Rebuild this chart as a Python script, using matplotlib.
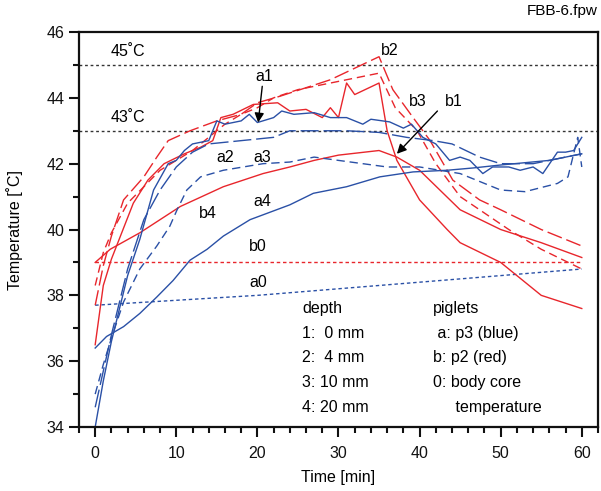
import numpy as np
import matplotlib
matplotlib.use("Agg")
import matplotlib.pyplot as plt
from matplotlib.ticker import MultipleLocator

plt.rcParams['font.family'] = ['Liberation Sans', 'DejaVu Sans']

RED = '#e8262c'
BLUE = '#2a50a6'

# piglet p3 (blue), depths 1..4
a1_t = [0, 1, 2, 4, 5.5, 7.2, 9, 10, 11, 12, 14, 15, 16, 18, 19, 20, 22, 23, 24.5, 27, 29, 31, 33, 34,
        36.3, 38, 39, 40.4, 42, 43.7, 45, 46.2, 47.8, 49, 51, 52.4, 54, 55.2, 57, 58, 59, 60]
a1_T = [34.0, 35.4, 36.6, 38.6, 39.7, 41.2, 42.0, 42.1, 42.4, 42.6, 42.7, 43.3, 43.2, 43.3, 43.5, 43.25,
        43.4, 43.6, 43.5, 43.55, 43.4, 43.4, 43.2, 43.35, 43.27, 43.08, 43.2, 42.8, 42.6, 42.1, 42.2,
        42.1, 41.7, 41.9, 41.9, 41.8, 41.9, 41.7, 42.35, 42.35, 42.4, 42.8]
a2_t = [0, 2, 4, 6, 8, 10, 12, 14, 18, 22, 24, 27, 31, 35, 38.4, 41.7, 44, 47.4, 50, 54, 58, 60]
a2_T = [34.6, 36.8, 38.8, 40.3, 41.2, 41.9, 42.35, 42.6, 42.7, 42.8, 43.0, 43.0, 43.0, 42.95, 42.8,
        42.7, 42.6, 42.2, 42.0, 42.0, 42.2, 42.3]
a3_t = [0, 1, 2, 3.5, 5.5, 7.6, 9.2, 10.1, 11.3, 13, 15.8, 20.7, 24, 27, 30, 36, 40, 45, 50, 53, 57,
        58.3, 59.5, 60]
a3_T = [35.0, 35.9, 36.7, 37.8, 38.8, 39.5, 40.1, 40.6, 41.2, 41.6, 41.8, 42.0, 42.05, 42.2, 42.1,
        41.9, 41.9, 41.7, 41.2, 41.15, 41.4, 41.6, 42.8, 41.9]
a4_t = [0, 1.4, 3.5, 5.5, 7.6, 9.6, 11.7, 13.8, 15.8, 19.1, 24, 26.9, 31, 35.1, 39.2, 43.4, 46.6,
        50, 56, 60]
a4_T = [36.4, 36.75, 37.05, 37.45, 37.95, 38.45, 39.07, 39.4, 39.8, 40.3, 40.75, 41.1, 41.3, 41.6,
        41.75, 41.8, 41.87, 41.96, 42.1, 42.3]
a0_t = [0, 10, 20, 30, 40, 50, 60]
a0_T = [37.7, 37.85, 38.0, 38.2, 38.4, 38.6, 38.8]

# piglet p2 (red), depths 1..4
b1_t = [0, 1, 2, 4.7, 6.5, 8.5, 11, 13, 14.5, 15.5, 17, 19.5, 22.5, 24, 26, 28, 29, 30, 31, 32, 35,
        36, 37.2, 40, 43.4, 45, 50, 55, 60]
b1_T = [36.5, 38.3, 39.1, 40.8, 41.5, 42.0, 42.3, 42.5, 42.7, 43.4, 43.5, 43.8, 43.85, 43.6, 43.65,
        43.4, 43.7, 43.4, 44.45, 44.1, 44.45, 43.0, 42.1, 40.9, 40.0, 39.6, 39.0, 38.0, 37.6]
b2_t = [0, 1, 2, 3.5, 6, 7.6, 9, 11.7, 15, 18, 20, 22.8, 29, 35, 36.7, 39.2, 41.3, 44.1, 47.4, 50,
        55, 60]
b2_T = [37.7, 38.9, 39.8, 40.9, 41.6, 42.2, 42.7, 43.0, 43.3, 43.5, 43.85, 44.05, 44.55, 45.25,
        44.25, 43.4, 42.7, 41.5, 40.9, 40.6, 40.0, 39.5]
b3_t = [0, 1, 2, 4, 6, 8, 10, 12, 14, 16, 18, 20, 22, 25, 30, 35, 37, 39.7, 42, 45, 51, 55, 60]
b3_T = [38.3, 39.3, 39.9, 40.8, 41.3, 41.8, 42.1, 42.4, 42.8, 43.2, 43.5, 43.7, 44.0, 44.25, 44.5,
        44.75, 43.7, 43.0, 42.0, 41.0, 40.0, 39.4, 38.8]
b4_t = [0, 1.85, 5.5, 10.5, 15.8, 20.7, 24, 27, 30, 35, 37.2, 40, 45, 50, 55, 60]
b4_T = [39.0, 39.4, 39.9, 40.7, 41.3, 41.7, 41.9, 42.1, 42.26, 42.4, 42.2, 41.8, 40.6, 40.0, 39.6,
        39.15]
b0_t = [0, 60]
b0_T = [39.0, 39.0]

depth_lines = ['depth', '1:  0 mm', '2:  4 mm', '3: 10 mm', '4: 20 mm']
piglet_lines = ['piglets', ' a: p3 (blue)', 'b: p2 (red)', '0: body core', '     temperature']

fig = plt.figure(figsize=(6.01, 4.91), dpi=100)
ax = fig.add_axes([0.1314, 0.1303, 0.8636, 0.8045])

lw = 1.0
ax.axhline(45, color='#333333', lw=1.0, ls=(0, (2, 2)))
ax.axhline(43, color='#333333', lw=1.0, ls=(0, (2, 2)))

ax.plot(b0_t, b0_T, color=RED, lw=lw, ls=(0, (2.5, 2)))
ax.plot(a0_t, a0_T, color=BLUE, lw=lw, ls=(0, (2.5, 2)))
ax.plot(b4_t, b4_T, color=RED, lw=lw)
ax.plot(b3_t, b3_T, color=RED, lw=lw, ls=(0, (6, 3.5)))
ax.plot(b2_t, b2_T, color=RED, lw=lw, ls=(0, (11, 3.5)))
ax.plot(b1_t, b1_T, color=RED, lw=lw)
ax.plot(a4_t, a4_T, color=BLUE, lw=lw)
ax.plot(a3_t, a3_T, color=BLUE, lw=lw, ls=(0, (6, 3.5)))
ax.plot(a2_t, a2_T, color=BLUE, lw=lw, ls=(0, (13, 3.5)))
ax.plot(a1_t, a1_T, color=BLUE, lw=lw)

fs = 11.5
ax.set_xlim(-2, 62)
ax.set_ylim(34, 46)
ax.xaxis.set_major_locator(MultipleLocator(10))
ax.xaxis.set_minor_locator(MultipleLocator(2))
ax.yaxis.set_major_locator(MultipleLocator(2))
ax.yaxis.set_minor_locator(MultipleLocator(1))
ax.tick_params(which='both', direction='out', width=1.5, labelsize=fs, colors='#111111')
ax.tick_params(which='major', length=7)
ax.tick_params(which='minor', length=4.5)
ax.tick_params(axis='x', pad=7)
for sp in ax.spines.values():
    sp.set_linewidth(1.6)
    sp.set_color('#111111')

ax.set_xlabel('Time [min]', fontsize=fs)
ax.set_ylabel('Temperature [˚C]', fontsize=fs)
ax.xaxis.set_label_coords(0.5, -0.108)
ax.yaxis.set_label_coords(-0.108, 0.5)
fig.text(0.995, 0.978, 'FBB-6.fpw', ha='right', va='center', fontsize=11)

ax.text(1.9, 45.4, '45˚C', fontsize=fs, ha='left', va='center')
ax.text(1.9, 43.4, '43˚C', fontsize=fs, ha='left', va='center')
ax.text(20.9, 44.65, 'a1', fontsize=fs, ha='center', va='center')
ax.text(16.0, 42.2, 'a2', fontsize=fs, ha='center', va='center')
ax.text(20.6, 42.2, 'a3', fontsize=fs, ha='center', va='center')
ax.text(20.6, 40.84, 'a4', fontsize=fs, ha='center', va='center')
ax.text(13.9, 40.5, 'b4', fontsize=fs, ha='center', va='center')
ax.text(20.1, 39.47, 'b0', fontsize=fs, ha='center', va='center')
ax.text(20.1, 38.4, 'a0', fontsize=fs, ha='center', va='center')
ax.text(36.3, 45.45, 'b2', fontsize=fs, ha='center', va='center')
ax.text(39.8, 43.9, 'b3', fontsize=fs, ha='center', va='center')
ax.text(44.2, 43.9, 'b1', fontsize=fs, ha='center', va='center')

arrow = dict(arrowstyle='-|>', color='black', lw=1.0, mutation_scale=14, shrinkA=0, shrinkB=0)
ax.annotate('', xy=(20.1, 43.25), xytext=(20.6, 44.35), arrowprops=arrow)
ax.annotate('', xy=(37.2, 42.3), xytext=(42.2, 43.6), arrowprops=arrow)

for i, s in enumerate(depth_lines):
    ax.text(25.5, 37.6 - i * 0.75, s, fontsize=fs, ha='left', va='center')
for i, s in enumerate(piglet_lines):
    ax.text(41.6, 37.6 - i * 0.75, s, fontsize=fs, ha='left', va='center')

fig.savefig('out.png', dpi=100)
